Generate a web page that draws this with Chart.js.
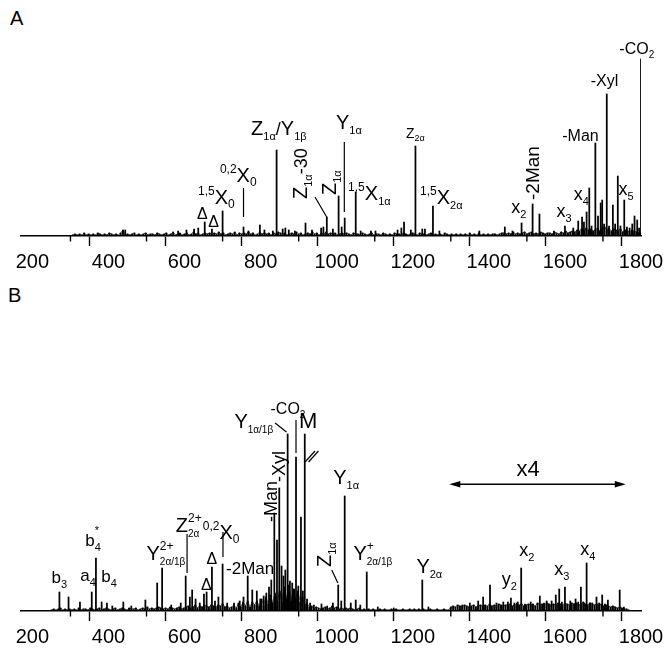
<!DOCTYPE html>
<html><head><meta charset="utf-8">
<script src="https://cdn.jsdelivr.net/npm/chart.js@4"></script>
<style>
body{margin:0;background:#fff;width:672px;height:658px;position:relative;overflow:hidden}
canvas{position:absolute;left:0}
.lbl{position:absolute;font:20px "Liberation Sans",Arial,sans-serif;color:#000;line-height:23px}
</style></head><body>
<div class="lbl" style="left:10px;top:7px">A</div>
<div class="lbl" style="left:8px;top:284px">B</div>
<canvas id="cA" width="672" height="280" style="top:0"></canvas>
<canvas id="cB" width="672" height="378" style="top:280px"></canvas>
<script>
// ---------- data ----------
const xTickLabels = [200,400,600,800,1000,1200,1400,1600,1800];
const minorTicks = [300,500,700,900,1100,1300,1500,1700];

// Panel A peaks (m/z, intensity)
const peakMzA = [444,583,605,625,636,653,672,700,755,768,798,810,832,842,858,865,874,890,918,935,959,965,974,990,1005,1013,1021,1050,1063,1090,1102,1160,1170,1177,1195,1207,1225,1232,1253,1270,1375,1442,1462,1486,1515,1533,1571,1600,1622,1635,1645,1650,1657,1664,1670,1680,1687,1694,1698,1703,1710,1716,1726,1732,1739,1746,1756,1763,1770,1777,1783,1790,1795,1800];
const peakIntA = [6,5,6,7,8,14,7,25,9,5,11,6,5,86,7,8,6,5,13,6,8,9,19,7,40,9,18,44,5,5,5,6,8,14,6,90,7,7,30,5,5,9,5,13,32,22,5,10,8,15,19,14,24,48,10,93,20,33,36,12,142,10,31,12,60,10,36,9,8,12,20,16,8,177];
// Panel A baseline noise, every 6 m/z from 300
const noiseStartA = 300, noiseStepA = 6;
const noiseA = [0,1,2,1,2,1,3,1,2,1, 2,1,3,2,1,2,1,3,2,1, 2,1,3,6,1,2,1,2,3,1, 2,1,2,3,1,2,2,1,3,2, 1,2,3,1,2,4,1,2,3,1,
 2,3,1,2,4,2,3,1,2,3, 2,3,1,3,2,4,2,3,1,2, 3,2,4,1,3,2,3,2,4,2, 3,1,2,4,2,3,2,3,1,3, 2,4,3,2,3,1,2,3,2,4,
 2,3,1,2,3,2,4,2,3,1, 3,2,4,2,3,2,3,1,2,3, 2,3,2,1,3,2,2,1,3,2, 1,2,3,1,2,2,1,3,2,1, 2,1,3,2,2,1,3,2,1,2,
 3,2,1,3,2,2,1,2,3,1, 2,1,2,1,3,2,1,2,1,2, 1,2,1,2,1,3,1,2,1,3, 1,2,1,2,1,2,2,1,2,3, 3,2,3,2,4,2,3,2,3,4,
 2,3,4,2,3,2,4,3,2,3, 3,2,4,3,2,4,3,5,3,4, 5,4,6,5,7,5,8,6,7,5, 6,8,5,7,9,6,8,5,7,6, 5,7,4,6,5,4,6,5,4,3, 3];

// Panel B peaks
const peakMzB = [271,295,325,356,367,382,396,410,439,460, 497,528,541,565,590,603,614,620,629,640, 651,658,672,680,689,700,712,730,745,755, 766,778,790,799,808,815,822,828,836,843, 849,855,860,865,871,877,883,888,893,899, 906,911,916,922,930,940,960,975,990,1004, 1012,1021,1037,1050,1062,1079,1108,1150,1225,1241, 1330,1350,1372,1385,1403,1420,1438,1450,1458,1467, 1476,1485,1495,1510,1534,1545,1552,1565,1576,1585, 1592,1600,1614,1628,1635,1642,1650,1657,1665,1672, 1683,1690,1698,1705,1713,1725,1744,1755];
const peakIntB = [19,14,9,19,53,9,8,5,9,5, 11,28,43,6,8,35,14,21,12,8, 17,19,44,10,14,47,8,8,10,14, 35,21,20,12,15,18,24,31,98,71, 123,45,35,41,177,30,28,22,154,25, 94,20,177,12,8,6,7,5,8,26, 10,115,8,11,6,39,4,3,31,4, 6,8,10,14,26,8,9,9,13,8, 9,43,7,9,15,8,10,10,16,22, 9,24,10,12,9,24,8,48,8,8, 14,8,16,7,11,4,21,4];
const noiseStartB = 250, noiseStepB = 6;
const noiseB = [1,2,1,2,3,1,2,1,2,1, 2,1,3,1,2,2,1,3,2,1, 2,3,1,2,3,2,1,2,3,1, 2,3,2,1,3,2,2,3,1,2, 3,2,4,2,3,2,3,4,3,2,
 3,2,4,3,2,3,4,2,3,4, 5,3,4,6,3,5,4,6,5,4, 6,5,4,6,5,7,4,5,3,4, 6,3,8,4,9,5,10,4,9,6, 10,5,12,6,14,7,16,8,18,9,
 20,9,24,12,26,10,22,12,20,9, 14,6,8,4,5,2,4,3,2,3, 4,2,3,5,3,4,2,3,2,3, 2,3,2,1,2,3,1,2,1,2, 1,2,1,1,2,1,2,1,1,2,
 1,2,1,1,2,1,1,2,1,2, 1,2,1,2,1,1,2,1,1,2, 1,1,2,1,1,4,5,4,6,5, 4,6,5,4,5,6,4,5,6,5, 6,5,7,5,6,5,7,6,5,6,
 6,7,5,6,8,6,7,5,6,7, 6,7,5,8,6,7,6,8,7,6, 7,6,8,7,6,8,7,6,8,7, 8,6,7,9,7,6,8,7,6,7, 6,7,5,6,5,4,5,4,3,4, 3,2,2,1];

// ---------- annotations (anchored in m/z and intensity units) ----------
const annotA = {
  labels: [
    {mz:633, I:17, parts:[['Δ',16]]},
    {mz:662, I:9, parts:[['Δ',16]]},
    {mz:635.5, I:32, parts:[['1,5',12,-9],['X',20],['0',12,4]]},
    {mz:693, I:54, parts:[['0,2',12,-9],['X',20],['0',12,4]]},
    {mz:775, I:101, parts:[['Z',20],['1α',11,5],['/',18],['Y',20],['1β',11,5]]},
    {mz:922, I:37, rot:-90, parts:[['Z',20],['1α',11,5],['-30',18]]},
    {mz:998, I:41, rot:-90, parts:[['Z',20],['1α',11,5]]},
    {mz:998, I:107, parts:[['Y',20],['1α',11,5]]},
    {mz:1030, I:36, parts:[['1,5',12,-9],['X',20],['1α',11,5]]},
    {mz:1182, I:98, parts:[['Z',14],['2α',9,3]]},
    {mz:1219, I:32, parts:[['1,5',12,-9],['X',20],['2α',11,5]]},
    {mz:1459, I:23, parts:[['x',18],['2',11,5]]},
    {mz:1532, I:36, rot:-90, parts:[['-2Man',19]]},
    {mz:1578, I:19, parts:[['x',18],['3',11,5]]},
    {mz:1623, I:36, parts:[['x',18],['4',11,5]]},
    {mz:1593, I:95, parts:[['-Man',16]]},
    {mz:1668, I:150, parts:[['-Xyl',16]]},
    {mz:1741, I:41, parts:[['x',18],['5',11,5]]},
    {mz:1743, I:182, parts:[['-CO',16],['2',10,4]]}
  ],
  leaders: [[755,48,755,19],[1020,94,1020,24],[943,39,973.6,19]],
  arrows: []
};
const annotB = {
  labels: [
    {mz:250, I:28, parts:[['b',17],['3',11,5]]},
    {mz:326, I:30.5, parts:[['a',17],['4',11,5]]},
    {mz:381, I:29, parts:[['b',17],['4',11,5]]},
    {mz:339, I:65, parts:[['b',17],{stack:[['*',11,-12],['4',11,5]]}]},
    {mz:500, I:51, parts:[['Y',20],{stack:[['2+',12,-10],['2α/1β',10,5]]}]},
    {mz:577, I:79, parts:[['Z',20],{stack:[['2+',12,-10],['2α',10,5]]}]},
    {mz:648, I:72, parts:[['0,2',12,-9],['X',20],['0',12,4]]},
    {mz:658, I:47, parts:[['Δ',16]]},
    {mz:643, I:21, parts:[['Δ',16]]},
    {mz:709, I:37, parts:[['-2Man',17]]},
    {mz:843, I:89, rot:-90, parts:[['-Man',18]]},
    {mz:864, I:129, rot:-90, parts:[['-Xyl',18]]},
    {mz:731, I:183, parts:[['Y',20],['1α/1β',10,5]]},
    {mz:826, I:197, parts:[['-CO',16],['2',10,4]]},
    {mz:901, I:183, parts:[['M',22]]},
    {mz:985, I:44, rot:-90, parts:[['Z',20],['1α',11,5]]},
    {mz:991, I:127, parts:[['Y',20],['1α',11,5]]},
    {mz:1044, I:51, parts:[['Y',20],{stack:[['+',12,-10],['2α/1β',10,5]]}]},
    {mz:1209.5, I:38, parts:[['Y',20],['2α',11,5]]},
    {mz:1434, I:26, parts:[['y',18],['2',11,5]]},
    {mz:1480, I:55, parts:[['x',18],['2',11,5]]},
    {mz:1572, I:36.5, parts:[['x',18],['3',11,5]]},
    {mz:1640, I:56, parts:[['x',18],['4',11,5]]},
    {mz:1503.5, I:135, align:'center', parts:[['x4',22]]}
  ],
  leaders: [[606.6,77,606.6,38],[701,79,701,54],[838,188,868,179],[893,191,893,158],[987,41,1003,28],
            [916.8,149,943,160],[926,149,952,160]],
  arrows: [[1296,126.7,1760,126.7]]
};

// ---------- drawing ----------
const FONT = '"Liberation Sans", Arial, sans-serif';
function partWidth(ctx, p){
  if (p.stack){ let w=0; for (const [t,s] of p.stack){ ctx.font = s+'px '+FONT; w=Math.max(w, ctx.measureText(t).width);} return w; }
  ctx.font = p[1]+'px '+FONT; return ctx.measureText(p[0]).width;
}
function drawRich(ctx, x, y, parts, rot, align){
  ctx.save();
  ctx.translate(x, y);
  if (rot) ctx.rotate(rot*Math.PI/180);
  ctx.textBaseline = 'alphabetic'; ctx.textAlign = 'left';
  let cx = 0;
  if (align === 'center'){ let w=0; for (const p of parts) w += partWidth(ctx,p); cx = -w/2; }
  for (const p of parts){
    if (p.stack){
      let w = 0;
      for (const [t,s,dy] of p.stack){ ctx.font = s+'px '+FONT; ctx.fillText(t, cx, dy||0); w = Math.max(w, ctx.measureText(t).width); }
      cx += w;
    } else {
      const [t,s,dy] = p; ctx.font = s+'px '+FONT; ctx.fillText(t, cx, dy||0); cx += ctx.measureText(t).width;
    }
  }
  ctx.restore();
}
function annotPlugin(cfg){
  return {
    id: 'annot',
    afterDatasetsDraw(chart){
      const {ctx, chartArea} = chart; const xs = chart.scales.x, ys = chart.scales.y;
      ctx.save();
      ctx.fillStyle = '#000'; ctx.strokeStyle = '#000';
      ctx.lineWidth = 1.4;
      for (const v of minorTicks){
        const px = xs.getPixelForValue(v);
        ctx.beginPath(); ctx.moveTo(px, chartArea.bottom); ctx.lineTo(px, chartArea.bottom+5.5); ctx.stroke();
      }
      ctx.lineWidth = 1.2;
      for (const [m1,i1,m2,i2] of cfg.leaders){
        ctx.beginPath(); ctx.moveTo(xs.getPixelForValue(m1), ys.getPixelForValue(i1));
        ctx.lineTo(xs.getPixelForValue(m2), ys.getPixelForValue(i2)); ctx.stroke();
      }
      for (const [m1,i1,m2,i2] of cfg.arrows){
        const x1 = xs.getPixelForValue(m1), x2 = xs.getPixelForValue(m2), y1 = ys.getPixelForValue(i1);
        ctx.lineWidth = 1.5;
        ctx.beginPath(); ctx.moveTo(x1+6, y1); ctx.lineTo(x2-6, y1); ctx.stroke();
        ctx.beginPath(); ctx.moveTo(x1, y1); ctx.lineTo(x1+11, y1-3.2); ctx.lineTo(x1+11, y1+3.2); ctx.closePath(); ctx.fill();
        ctx.beginPath(); ctx.moveTo(x2, y1); ctx.lineTo(x2-11, y1-3.2); ctx.lineTo(x2-11, y1+3.2); ctx.closePath(); ctx.fill();
      }
      for (const l of cfg.labels){
        drawRich(ctx, xs.getPixelForValue(l.mz), ys.getPixelForValue(l.I), l.parts, l.rot, l.align);
      }
      ctx.restore();
    }
  };
}
function makeChart(id, mzArr, intArr, noise, nStart, nStep, pad, annot){
  const peaks = mzArr.map((m,i)=>({x:m, y:intArr[i]}));
  const noisePts = noise.map((v,i)=>({x:nStart+nStep*i, y:v}));
  return new Chart(document.getElementById(id), {
    type: 'bar',
    data: { datasets: [
      { type:'bar', data: peaks, backgroundColor:'#000', borderWidth:0, barThickness:1.1, grouped:false, order:1 },
      { type:'bar', data: noisePts, backgroundColor:'#000', borderWidth:0, barThickness:1.3, grouped:false, order:2 },
      { type:'line', data: noisePts, borderColor:'rgba(0,0,0,0.8)', borderWidth:0.8, pointRadius:0, tension:0, fill:false, order:3 }
    ]},
    options: {
      responsive:false, animation:false, devicePixelRatio:1,
      layout:{padding:pad},
      plugins:{legend:{display:false}, tooltip:{enabled:false}},
      scales:{
        x:{type:'linear', min:170, max:1800, offset:false,
           afterFit: s => { s.height = 40; },
           ticks:{stepSize:100, includeBounds:false, autoSkip:false, maxRotation:0, minRotation:0,
                  color:'#000', font:{size:20, family:FONT}, padding:4,
                  callback: v => xTickLabels.includes(v) ? String(v) : ''},
           grid:{display:true, drawOnChartArea:false, drawTicks:true, tickLength:10, tickWidth:1.4,
                 tickColor: c => (c.tick && xTickLabels.includes(c.tick.value)) ? '#000' : 'rgba(0,0,0,0)'},
           border:{display:true, color:'#000', width:1.6}},
        y:{display:false, min:0, max:230}
      }
    },
    plugins:[annotPlugin(annot)]
  });
}
makeChart('cA', peakMzA, peakIntA, noiseA, noiseStartA, noiseStepA, {left:21, right:31, top:6, bottom:4}, annotA);
makeChart('cB', peakMzB, peakIntB, noiseB, noiseStartB, noiseStepB, {left:21, right:31, top:101, bottom:7}, annotB);
</script>
</body></html>
